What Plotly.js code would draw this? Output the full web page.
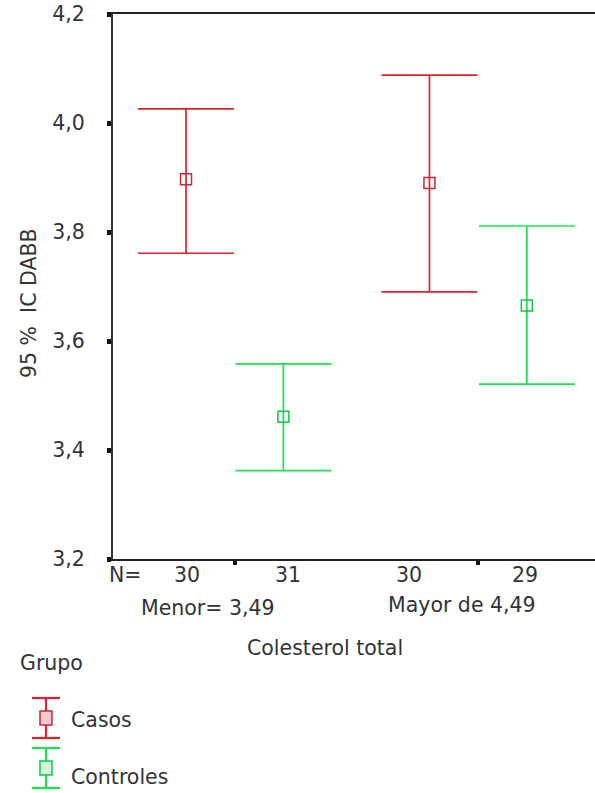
<!DOCTYPE html>
<html><head><meta charset="utf-8">
<script src="https://cdn.plot.ly/plotly-3.0.1.min.js"></script>
<style>html,body{margin:0;padding:0;background:#fff;overflow:hidden}</style>
</head><body><div id="chart" style="width:595px;height:793px"></div>
<script>
// ---- data ----
const categories = ["Menor= 3,49", "Mayor de 4,49"];
const seriesNames = ["Casos", "Controles"];
const casosMean = [3.897, 3.890];
const casosLower = [3.761, 3.690];
const casosUpper = [4.026, 4.088];
const controlesMean = [3.461, 3.665];
const controlesLower = [3.362, 3.521];
const controlesUpper = [3.558, 3.811];
const casosN = [30, 30];
const controlesN = [31, 29];
const yTickVals = [3.2, 3.4, 3.6, 3.8, 4.0, 4.2];
const xTitle = "Colesterol total";
const yTitle = "95 %  IC DABB";
const legendTitle = "Grupo";

// ---- style ----
const RED = "#e4202c", RED_MK = "#c8283a";
const GREEN = "#18e452", GREEN_MK = "#12c846";
const FONT = "DejaVu Sans";
const FS = 20.5;
const TXT = "#333333";
const W = 595, H = 793, ML = 113, MT = 14, MB = 234, MR = 0;
const PW = W - ML - MR, PH = H - MT - MB;
const px = x => (x - ML) / PW;           // pixel -> paper x
const py = y => (H - MB - y) / PH;       // pixel -> paper y

function trace(name, mean, lo, hi, col, mk) {
  return {
    type: "scatter", mode: "markers", name: name,
    x: categories, y: mean, offsetgroup: name,
    marker: {symbol: "square-open", size: 11, color: mk, line: {width: 1.5, color: mk}},
    error_y: {type: "data", symmetric: false,
      array: hi.map((v, i) => v - mean[i]),
      arrayminus: lo.map((v, i) => mean[i] - v),
      color: col, thickness: 1.7, width: 48},
    hoverinfo: "skip", cliponaxis: false
  };
}

const data = [
  trace(seriesNames[0], casosMean, casosLower, casosUpper, RED, RED_MK),
  trace(seriesNames[1], controlesMean, controlesLower, controlesUpper, GREEN, GREEN_MK)
];

const ann = [];
const f = (s) => ({family: FONT, size: s, color: TXT});
const A = (o) => Object.assign({showarrow: false, yanchor: "middle", font: f(FS)}, o);
// N row
ann.push(A({xref: "paper", yref: "paper", x: 0, y: py(575), xshift: -6, xanchor: "left", text: "N="}));
const nShift = [[-48, 53], [-69, 47]];
categories.forEach((c, i) => {
  ann.push(A({xref: "x", yref: "paper", x: i, y: py(575), xshift: nShift[i][0], text: String(casosN[i])}));
  ann.push(A({xref: "x", yref: "paper", x: i, y: py(575), xshift: nShift[i][1], text: String(controlesN[i])}));
});
const gShift = [-27, -16];
const gY = [608, 605];
categories.forEach((c, i) => {
  ann.push(A({xref: "x", yref: "paper", x: i, y: py(gY[i]), xshift: gShift[i], text: c}));
});
ann.push(A({xref: "paper", yref: "paper", x: px(325), y: py(648), text: xTitle}));
ann.push(A({xref: "paper", yref: "paper", x: px(29), y: py(303), xanchor: "center", text: yTitle, textangle: -90}));
// legend
ann.push(A({xref: "paper", yref: "paper", x: px(18), y: py(663), xanchor: "left", text: legendTitle}));
const legY = [718, 768];
const legTextY = [720, 777];
const legCol = [RED, GREEN], legMk = [RED_MK, GREEN_MK];
const shapes = [];
seriesNames.forEach((n, i) => {
  ann.push(A({xref: "paper", yref: "paper", x: px(69), y: py(legTextY[i]), xanchor: "left", text: n}));
  const c = legCol[i], yc = legY[i], x0 = 32, x1 = 60, xm = 46;
  const L = (a, b, c2, d) => ({type: "line", xref: "paper", yref: "paper", x0: px(a), y0: py(b), x1: px(c2), y1: py(d), line: {color: c, width: 2.2}});
  shapes.push(L(xm, yc - 20, xm, yc + 20));
  shapes.push(L(x0, yc - 20, x1, yc - 20));
  shapes.push(L(x0, yc + 20, x1, yc + 20));
  shapes.push({type: "rect", xref: "paper", yref: "paper", x0: px(xm - 6), x1: px(xm + 6), y0: py(yc - 7), y1: py(yc + 7),
    line: {color: legMk[i], width: 1.5}, fillcolor: i === 0 ? "#f4c8cc" : "#d8f4dc"});
});

const layout = {
  width: W, height: H,
  margin: {l: ML, r: MR, t: MT, b: MB, pad: 0},
  paper_bgcolor: "#ffffff", plot_bgcolor: "#ffffff",
  font: {family: FONT, size: FS, color: TXT},
  separators: ", ",
  showlegend: false,
  scattermode: "group", scattergap: 0.2,
  xaxis: {type: "category", categoryorder: "array", categoryarray: categories,
    range: [-0.5, 1.48], showgrid: false, zeroline: false,
    showline: true, linecolor: "#222", linewidth: 2, mirror: true,
    ticks: "outside", ticklen: 4, tickwidth: 4, tickcolor: "#111",
    showticklabels: false, fixedrange: true},
  yaxis: {range: [3.2, 4.2], tickvals: yTickVals, tickformat: ".1f",
    showgrid: false, zeroline: false,
    showline: true, linecolor: "#333", linewidth: 2,
    ticks: "outside", ticklen: 4, tickwidth: 5, tickcolor: "#111",
    ticklabelstandoff: 18, tickfont: {family: FONT, size: FS, color: TXT}},
  annotations: ann, shapes: shapes
};
Plotly.newPlot("chart", data, layout, {staticPlot: true, displayModeBar: false});
</script></body></html>
